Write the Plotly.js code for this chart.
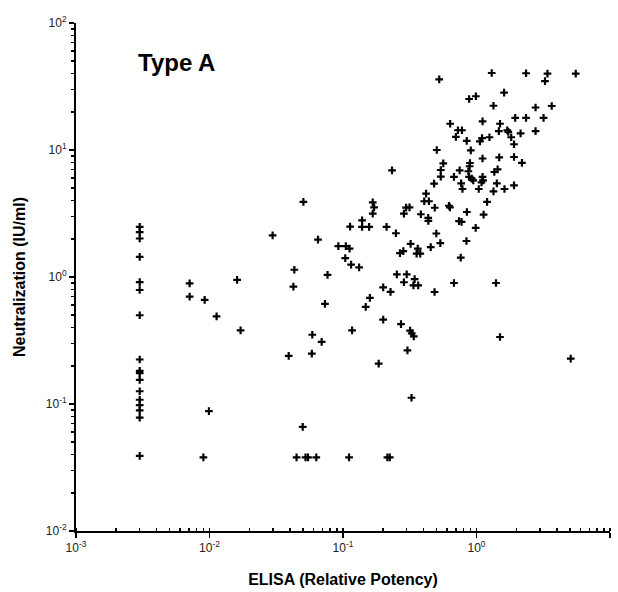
<!DOCTYPE html>
<html>
<head>
<meta charset="utf-8">
<script src="https://cdn.plot.ly/plotly-3.0.1.min.js"></script>
<style>
  html, body { margin: 0; padding: 0; background: #fff; }
  #chart { width: 618px; height: 592px; }
</style>
</head>
<body>
<div id="chart"></div>
<script>
// ELISA (relative potency) values, paired with neutralization (IU/ml) values
var elisa = [
  0.003, 0.003, 0.003, 0.003, 0.003, 0.003, 0.003, 0.003, 0.003,
  0.003, 0.003, 0.003, 0.003, 0.003, 0.003, 0.003, 0.003,
  0.0071, 0.0071, 0.0092, 0.0113, 0.0161, 0.0171, 0.0099, 0.0090,
  0.0297, 0.0505, 0.0432, 0.0425, 0.065, 0.0392, 0.0589, 0.0692, 0.0584, 0.0499,
  0.0449, 0.0524, 0.0547, 0.0631, 0.0766, 0.0733,
  0.0923, 0.105, 0.112, 0.104, 0.115, 0.132, 0.113, 0.139, 0.139, 0.157,
  0.167, 0.171, 0.167, 0.212, 0.249, 0.117, 0.148, 0.159, 0.200, 0.227,
  0.200, 0.185, 0.111, 0.215, 0.224,
  0.267, 0.283, 0.321, 0.363, 0.356, 0.379, 0.253, 0.300, 0.286, 0.344,
  0.337, 0.366, 0.272, 0.318, 0.327, 0.339, 0.304, 0.326,
  0.297, 0.315, 0.286, 0.383, 0.435, 0.436, 0.419, 0.406, 0.440, 0.487,
  0.622, 0.632, 0.485, 0.678, 1.40, 1.50, 5.08,
  0.233, 0.481, 0.500, 0.536, 0.454, 0.841, 0.762, 0.847, 0.740, 0.773,
  0.986, 1.20, 1.13,
  0.526, 1.30, 2.35, 3.40, 5.54, 3.26, 0.881, 0.989, 1.61, 1.34,
  2.77, 3.66, 1.11, 1.95, 2.35, 3.18, 0.635, 1.50, 0.726, 0.778,
  1.47, 1.70, 1.73, 2.77, 2.14, 0.701, 0.845, 1.06, 1.10, 1.25,
  1.82, 1.91, 0.504, 0.906, 1.11, 1.48, 1.91, 2.19, 0.564, 0.893,
  0.888, 0.540, 0.540, 0.678, 0.748, 0.869, 0.880, 0.921, 0.946, 1.11,
  1.12, 1.09, 1.36, 1.44, 1.42, 0.767, 0.785, 1.04, 1.34, 1.62, 1.91
];
var neutralization = [
  2.48, 2.26, 2.01, 1.44, 0.91, 0.79, 0.50, 0.224, 0.182,
  0.175, 0.155, 0.126, 0.108, 0.098, 0.089, 0.078, 0.039,
  0.89, 0.70, 0.66, 0.49, 0.95, 0.38, 0.088, 0.038,
  2.13, 3.90, 1.14, 0.84, 1.97, 0.239, 0.351, 0.308, 0.249, 0.066,
  0.038, 0.038, 0.038, 0.038, 1.04, 0.615,
  1.75, 1.75, 1.67, 1.41, 1.25, 1.19, 2.49, 2.79, 2.48, 2.48,
  3.87, 3.54, 3.16, 2.48, 2.21, 0.380, 0.582, 0.686, 0.830, 0.764,
  0.462, 0.208, 0.038, 0.038, 0.038,
  1.54, 1.60, 1.82, 1.67, 1.53, 1.53, 1.05, 1.05, 0.909, 0.963,
  0.860, 0.860, 0.426, 0.378, 0.360, 0.341, 0.264, 0.112,
  3.52, 3.54, 3.16, 3.12, 2.92, 2.77, 4.54, 3.95, 3.95, 3.51,
  3.64, 3.54, 0.762, 0.897, 0.897, 0.337, 0.228,
  6.92, 5.44, 2.20, 1.85, 1.72, 1.92, 1.42, 3.25, 2.75, 2.72,
  2.44, 3.90, 3.10,
  36.0, 40.4, 40.2, 40.0, 40.0, 34.8, 25.2, 26.5, 28.3, 22.3,
  21.6, 22.2, 16.8, 17.9, 17.9, 17.9, 16.1, 16.1, 14.3, 14.3,
  14.1, 14.3, 13.9, 14.1, 13.5, 12.7, 11.8, 11.7, 12.4, 12.6,
  12.6, 11.1, 10.0, 9.95, 8.57, 8.76, 8.81, 7.93, 7.86, 7.90,
  7.45, 6.96, 6.16, 6.15, 6.92, 6.80, 6.15, 5.96, 5.77, 6.15,
  5.77, 5.57, 6.71, 7.05, 5.47, 5.47, 4.93, 4.93, 4.73, 4.93, 5.27
];
var xTickVals = [0.001, 0.01, 0.1, 1, 10];
var xTickText = ['10<sup>-3</sup>', '10<sup>-2</sup>', '10<sup>-1</sup>', '10<sup>0</sup>', '10<sup>1</sup>'];
var yTickVals = [0.01, 0.1, 1, 10, 100];
var yTickText = ['10<sup>-2</sup>', '10<sup>-1</sup>', '10<sup>0</sup>', '10<sup>1</sup>', '10<sup>2</sup>'];

var trace = {
  x: elisa,
  y: neutralization,
  type: 'scatter',
  mode: 'markers',
  marker: {
    symbol: 'cross-thin',
    size: 5.5,
    color: '#000',
    line: { color: '#000', width: 2.2 }
  },
  hoverinfo: 'x+y'
};

var axisFont = { family: 'Liberation Sans, Arial, sans-serif', size: 12, color: '#222' };

var layout = {
  width: 618,
  height: 592,
  margin: { l: 76, r: 8, t: 23, b: 61 },
  paper_bgcolor: '#fff',
  plot_bgcolor: '#fff',
  showlegend: false,
  xaxis: {
    type: 'log',
    range: [-3, 1],
    showgrid: false,
    zeroline: false,
    showline: true,
    linecolor: '#000',
    linewidth: 2,
    ticks: 'outside',
    ticklen: 5,
    tickwidth: 1.5,
    tickcolor: '#000',
    tickvals: xTickVals,
    ticktext: xTickText,
    tickfont: axisFont,
    minor: { ticks: 'inside', ticklen: 3, tickwidth: 1.5, tickcolor: '#000', dtick: 'D1', showgrid: false },
    title: { text: 'ELISA (Relative Potency)', standoff: 19,
             font: { family: 'Liberation Sans, Arial, sans-serif', size: 16, color: '#000', weight: 'bold' } }
  },
  yaxis: {
    type: 'log',
    range: [-2, 2],
    showgrid: false,
    zeroline: false,
    showline: true,
    linecolor: '#000',
    linewidth: 2,
    ticks: 'outside',
    ticklen: 5,
    tickwidth: 1.5,
    tickcolor: '#000',
    tickvals: yTickVals,
    ticktext: yTickText,
    tickfont: axisFont,
    minor: { ticks: 'outside', ticklen: 3, tickwidth: 1.5, tickcolor: '#000', dtick: 'D1', showgrid: false },
    title: { text: 'Neutralization (IU/ml)', standoff: 16,
             font: { family: 'Liberation Sans, Arial, sans-serif', size: 16, color: '#000', weight: 'bold' } }
  },
  annotations: [{
    text: '<b>Type A</b>',
    xref: 'paper', yref: 'paper',
    x: 0.112, y: 0.922,
    xanchor: 'left', yanchor: 'middle',
    showarrow: false,
    font: { family: 'Liberation Sans, Arial, sans-serif', size: 24, color: '#000' }
  }]
};

Plotly.newPlot('chart', [trace], layout, { displayModeBar: false, staticPlot: true });
</script>
</body>
</html>
